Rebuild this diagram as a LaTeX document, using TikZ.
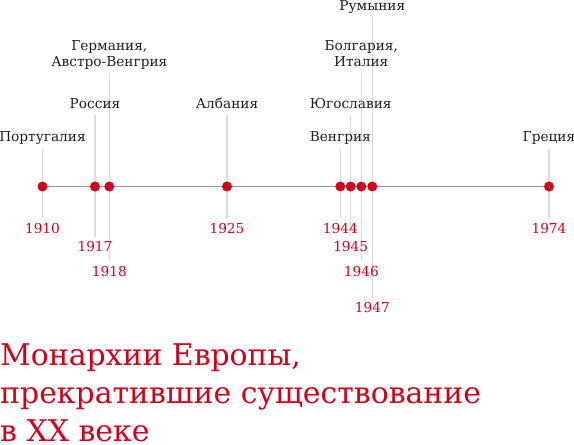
\documentclass[tikz,border=0pt]{standalone}
\usepackage{fontspec}
\setmainfont{DejaVu Serif}
\definecolor{mnred}{RGB}{208,2,27}
\definecolor{mngray}{RGB}{150,150,150}
\definecolor{mnstem}{RGB}{220,220,220}
\usetikzlibrary{backgrounds}

\begin{document}
\begin{tikzpicture}[x=1pt, y=-1pt,
  dot/.style={circle, fill=mnred, inner sep=0pt, minimum size=10pt},
  country/.style={anchor=base, inner sep=0pt, align=center, font=\fontsize{13.7}{16}\selectfont, text=black!88},
  year/.style={anchor=base, inner sep=0pt, font=\fontsize{13.7}{16}\selectfont, text=mnred},
  stem/.style={draw=mnstem, line width=1.5pt}]
  \useasboundingbox (0,0) rectangle (574,445);

  %% Countries
  \node[country] (cPor) at (42.5,141.7) {Португалия};
  \node[country] (cRus) at (95,108.3) {Россия};
  \node[country] (cGer) at (109.3,66) {Германия,\\Австро-Венгрия};
  \node[country] (cAlb) at (227,108.3) {Албания};
  \node[country] (cHun) at (340.3,141.7) {Венгрия};
  \node[country] (cYug) at (350.7,108.3) {Югославия};
  \node[country] (cBul) at (361.3,66) {Болгария,\\Италия};
  \node[country] (cRom) at (372.3,10) {Румыния};
  \node[country] (cGre) at (549,141.7) {Греция};

  %% Years
  \node[year] (y1910) at (42.5,233.3) {1910};
  \node[year] (y1917) at (95,251.7) {1917};
  \node[year] (y1918) at (109.3,276) {1918};
  \node[year] (y1925) at (227,233.3) {1925};
  \node[year] (y1944) at (340.3,233.3) {1944};
  \node[year] (y1945) at (350.7,251.7) {1945};
  \node[year] (y1946) at (361.3,276) {1946};
  \node[year] (y1947) at (372.3,312.7) {1947};
  \node[year] (y1974) at (549,233.3) {1974};

  %% Dots on the axis
  \node[dot] (dPor) at (42.5,186.5) {};
  \node[dot] (dRus) at (95,186.5) {};
  \node[dot] (dGer) at (109.3,186.5) {};
  \node[dot] (dAlb) at (227,186.5) {};
  \node[dot] (dHun) at (340.3,186.5) {};
  \node[dot] (dYug) at (350.7,186.5) {};
  \node[dot] (dBul) at (361.3,186.5) {};
  \node[dot] (dRom) at (372.3,186.5) {};
  \node[dot] (dGre) at (549,186.5) {};

  \begin{scope}[on background layer]
    %% Stems
    \draw[stem] ([yshift=-7pt]cPor.base) -- ([yshift=15pt]y1910.base);
    \draw[stem] ([yshift=-7pt]cRus.base) -- ([yshift=15pt]y1917.base);
    \draw[stem] ([yshift=-7pt]cGer.base) -- ([yshift=15pt]y1918.base);
    \draw[stem] ([yshift=-7pt]cAlb.base) -- ([yshift=15pt]y1925.base);
    \draw[stem] ([yshift=-7pt]cHun.base) -- ([yshift=15pt]y1944.base);
    \draw[stem] ([yshift=-7pt]cYug.base) -- ([yshift=15pt]y1945.base);
    \draw[stem] ([yshift=-7pt]cBul.base) -- ([yshift=15pt]y1946.base);
    \draw[stem] ([yshift=-7pt]cRom.base) -- ([yshift=15pt]y1947.base);
    \draw[stem] ([yshift=-7pt]cGre.base) -- ([yshift=15pt]y1974.base);
    %% Axis
    \draw[mngray, line width=1pt] (dPor.center) -- (dGre.center);
  \end{scope}

  %% Title
  \node[anchor=base west, inner sep=0pt, align=left, font=\fontsize{29.9}{38.3}\selectfont, text=mnred] (title) at (0,441.7) {Монархии Европы,\\прекратившие существование\\в XX веке};
\end{tikzpicture}
\end{document}
